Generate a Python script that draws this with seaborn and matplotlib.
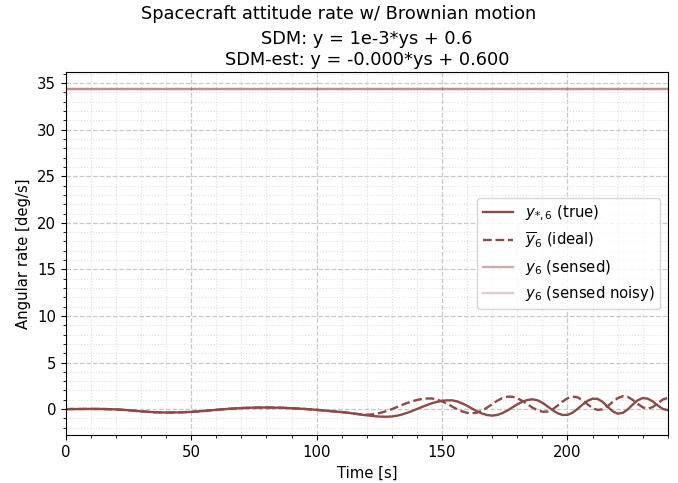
import numpy as np
import matplotlib
matplotlib.use("Agg")
import matplotlib.pyplot as plt
from matplotlib.ticker import MultipleLocator
import seaborn as sns

# time grid [s]: coarse early, finer where the oscillation starts
t = list(range(0, 110, 5)) + list(range(110, 242, 2))

early = [0.0, 0.01, 0.02, 0.01, -0.03, -0.12, -0.24, -0.33, -0.37, -0.35, -0.3,
         -0.2, -0.08, 0.03, 0.11, 0.16, 0.17, 0.15, 0.1, 0.02, -0.08, -0.2]

# true attitude rate
y_true = early + [
    -0.32, -0.38, -0.45, -0.52, -0.6, -0.67, -0.73, -0.78, -0.81, -0.82,
    -0.79, -0.71, -0.58, -0.41, -0.21, 0.01, 0.23, 0.44, 0.63, 0.78,
    0.89, 0.94, 0.94, 0.83, 0.62, 0.35, 0.05, -0.24, -0.48, -0.64,
    -0.70, -0.63, -0.44, -0.16, 0.18, 0.51, 0.79, 0.98, 1.05, 0.95,
    0.68, 0.30, -0.10, -0.44, -0.63, -0.62, -0.39, 0.02, 0.48, 0.89,
    1.12, 1.10, 0.78, 0.26, -0.23, -0.49, -0.41, -0.04, 0.48, 0.95,
    1.19, 1.12, 0.82, 0.39, 0.02, -0.12]

# ideal attitude rate
y_ideal = early + [
    -0.32, -0.38, -0.45, -0.52, -0.57, -0.6, -0.57, -0.49, -0.36, -0.19,
    0.0, 0.22, 0.44, 0.65, 0.83, 0.98, 1.09, 1.14, 1.14, 1.03,
    0.83, 0.57, 0.28, -0.01, -0.24, -0.40, -0.45, -0.37, -0.15, 0.17,
    0.54, 0.90, 1.18, 1.33, 1.33, 1.17, 0.88, 0.53, 0.17, -0.12,
    -0.28, -0.27, -0.04, 0.36, 0.80, 1.16, 1.34, 1.27, 0.95, 0.51,
    0.11, -0.09, -0.02, 0.31, 0.77, 1.18, 1.39, 1.32, 0.99, 0.56,
    0.19, 0.05, 0.22, 0.63, 1.03, 1.2]

# sensed values sit flat near the top
sensed_level = 34.35
y_sensed = [sensed_level] * len(t)
y_noisy = [sensed_level] * len(t)

col = "#8c4b45"

plt.rcParams["font.size"] = 10.7

fig = plt.figure(figsize=(6.78, 4.83), dpi=100)
ax = fig.add_axes([0.097, 0.099, 0.888, 0.752])

sns.lineplot(x=t, y=y_true, ax=ax, color=col, lw=1.7, label=r"$y_{*,6}$ (true)")
sns.lineplot(x=t, y=y_ideal, ax=ax, color=col, lw=1.7, ls="--", label=r"$\overline{y}_6$ (ideal)")
sns.lineplot(x=t, y=y_sensed, ax=ax, color=col, lw=1.7, alpha=0.45, label=r"$y_6$ (sensed)")
sns.lineplot(x=t, y=y_noisy, ax=ax, color=col, lw=1.7, alpha=0.28, label=r"$y_6$ (sensed noisy)")

ax.set_xlim(0, 240)
ax.set_ylim(-2.8, 36.2)
ax.xaxis.set_major_locator(MultipleLocator(50))
ax.xaxis.set_minor_locator(MultipleLocator(10))
ax.yaxis.set_major_locator(MultipleLocator(5))
ax.yaxis.set_minor_locator(MultipleLocator(1))
ax.grid(which="major", color="#c8c8c8", ls="--", lw=0.9)
ax.grid(which="minor", color="#e0e0e0", ls=":", lw=0.8)

ax.set_xlabel("Time [s]")
ax.set_ylabel("Angular rate [deg/s]")
ax.set_title("SDM: y = 1e-3*ys + 0.6\nSDM-est: y = -0.000*ys + 0.600", fontsize=12.8, pad=5)
fig.suptitle("Spacecraft attitude rate w/ Brownian motion", fontsize=12.8, y=0.99)
ax.legend(loc="center right", fontsize=10.7)

fig.savefig("out.png", dpi=100)
